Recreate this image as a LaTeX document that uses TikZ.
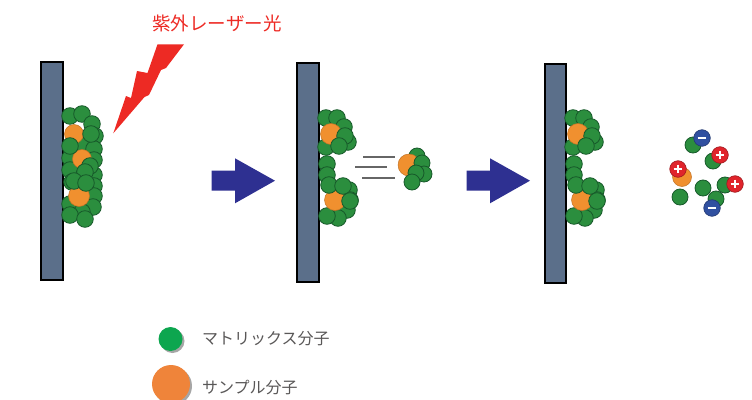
\documentclass[tikz,border=0pt]{standalone}
\usepackage{fontspec}
\newfontfamily\jpfont{Noto Sans CJK JP}

\definecolor{plateblue}{HTML}{5B6F8A}
\definecolor{matgreen}{HTML}{2B8E3E}
\definecolor{matdark}{HTML}{17592A}
\definecolor{smporange}{HTML}{F0902F}
\definecolor{flowblue}{HTML}{2E3091}
\definecolor{laserred}{HTML}{ED2A24}
\definecolor{keygreen}{HTML}{0DA64F}
\definecolor{keyorange}{HTML}{EF843A}
\definecolor{keytext}{HTML}{595757}
\definecolor{ionred}{HTML}{E0242B}
\definecolor{ionblue}{HTML}{3050A0}

\tikzset{
  plate/.style={draw=black, fill=plateblue, line width=1.5pt},
  mat/.style={draw=matdark, fill=matgreen, line width=0.8pt},
  smp/.style={draw=smporange!80!black, fill=smporange, line width=0.5pt},
  flow/.style={fill=flowblue},
  sign/.style={draw=white, line width=1.7pt},
  keylabel/.style={font=\jpfont\fontsize{16}{18}\selectfont, text=keytext, anchor=west, inner sep=0pt}
}

\begin{document}
\begin{tikzpicture}[x=1pt, y=-1pt]
    \useasboundingbox (0,0) rectangle (752,399);

    % レーザー光
    \node[font=\jpfont\fontsize{18.5}{20}\selectfont, text=laserred] (laser) at (217,23) {紫外レーザー光};
    \fill[laserred] (157.5,44.3) -- (184,44.3) -- (166,68) -- (161,70) -- (149,95) -- (144.5,97)
        -- (113.3,133.3) -- (126,96) -- (131,98) -- (137,71) -- (147.5,73) -- cycle;

    % 基板
    \draw[plate] (41,62) rectangle (63,280);
    \draw[plate] (297,63) rectangle (319,282);
    \draw[plate] (545,64) rectangle (566,283);

    % 試料（照射前）
    \foreach \x/\y in {70/116, 82/114, 92/124, 95/136, 84/146, 94/149, 70/158, 94/160, 70/170, 84/175,
                       94/175, 72/182, 94/186, 70/204, 94/196, 93/207, 82/212, 70/215, 85/219}
        \path[mat] (\x,\y) circle (8.3pt);
    \foreach \x/\y/\r in {74/134/9.5, 82/159/9.5, 79/196/10.5}
        \path[smp] (\x,\y) circle (\r pt);
    \foreach \x/\y in {91/134, 70/146, 90/166, 85/172, 74/181, 86/183}
        \path[mat] (\x,\y) circle (8.3pt);

    % 基板に残る分子
    \foreach \dx in {0,247} {
        \begin{scope}[xshift=\dx]
            \foreach \x/\y in {326/118, 337/118, 344/127, 348/142, 326/147, 327/164, 327/175,
                               349/190, 350/200, 347/210, 338/218, 327/216}
                \path[mat] (\x,\y) circle (8.3pt);
            \path[smp] (331,134) circle (10.5pt);
            \path[smp] (335,200) circle (10.5pt);
            \foreach \x/\y in {345/136, 339/146, 329/185, 343/186, 350/201}
                \path[mat] (\x,\y) circle (8.3pt);
        \end{scope}
    }

    % 飛び出す分子
    \draw[line width=1.2pt, black!60] (363,157) -- (395,157)
                                       (355,167) -- (387,167)
                                       (362,178) -- (395,178);
    \path[mat] (417,156) circle (8pt);
    \path[smp] (409,165) circle (11pt);
    \foreach \x/\y in {422/163, 424/174, 416/173, 412/182}
        \path[mat] (\x,\y) circle (8pt);

    % イオン化
    \foreach \x/\y in {693/145, 713/161, 703/188, 725/185, 680/197, 716/199}
        \path[mat] (\x,\y) circle (8pt);
    \path[smp] (682,177) circle (9.5pt);
    \foreach \x/\y in {720/155, 678/169, 735/184} {
        \path[draw=ionred!70!black, fill=ionred, line width=0.6pt] (\x,\y) circle (8.3pt);
        \path[sign] (\x,\y) ++(-4.3,0) -- ++(8.6,0) (\x,\y) ++(0,-4.3) -- ++(0,8.6);
    }
    \foreach \x/\y in {702/138, 712/208} {
        \path[draw=ionblue!70!black, fill=ionblue, line width=0.6pt] (\x,\y) circle (8.3pt);
        \path[sign] (\x,\y) ++(-4.3,0) -- ++(8.6,0);
    }

    % 矢印
    \foreach \dx in {0,255}
        \fill[flow, xshift=\dx] (211.7,170.7) -- (235,170.7) -- (235,158.3) -- (275,180.7)
            -- (235,203.3) -- (235,190.7) -- (211.7,190.7) -- cycle;

    % 凡例
    \fill[black!35] (172.5,341) circle (12pt);
    \fill[keygreen] (170.5,339) circle (12pt);
    \node[keylabel] (matkey) at (202,339) {マトリックス分子};
    \fill[black!35] (173,386) circle (19pt);
    \fill[keyorange] (171,384) circle (19pt);
    \node[keylabel] (smpkey) at (202,388) {サンプル分子};
\end{tikzpicture}
\end{document}
